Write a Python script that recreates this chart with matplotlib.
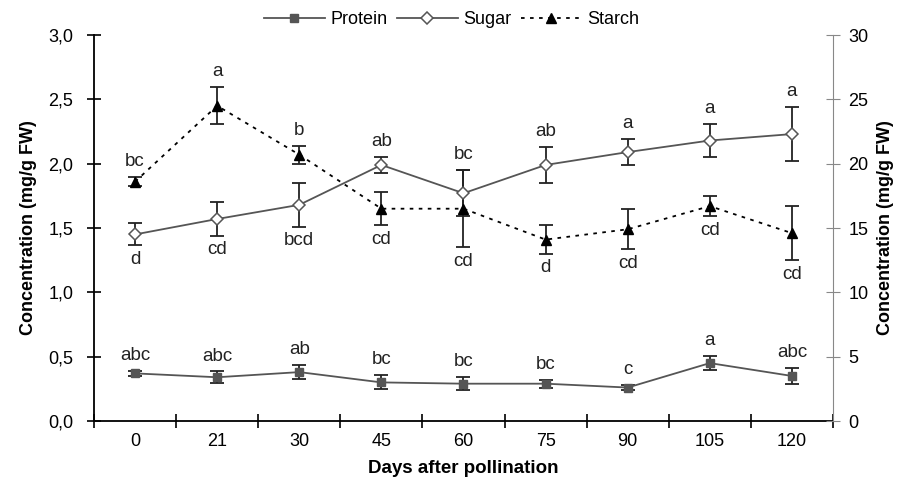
import matplotlib
matplotlib.use("Agg")
import matplotlib.pyplot as plt
import numpy as np

plt.rcParams['font.family'] = ['Liberation Sans', 'DejaVu Sans']

days = ["0", "21", "30", "45", "60", "75", "90", "105", "120"]
left_ticks = ["0,0", "0,5", "1,0", "1,5", "2,0", "2,5", "3,0"]

protein = [0.37, 0.34, 0.38, 0.30, 0.29, 0.29, 0.26, 0.45, 0.35]
protein_err = [0.02, 0.045, 0.055, 0.055, 0.05, 0.03, 0.02, 0.055, 0.06]
protein_let = ["abc", "abc", "ab", "bc", "bc", "bc", "c", "a", "abc"]

sugar = [14.5, 15.7, 16.8, 19.9, 17.7, 19.9, 20.9, 21.8, 22.3]
sugar_err = [0.85, 1.3, 1.7, 0.6, 1.8, 1.4, 1.0, 1.3, 2.1]
sugar_let = ["d", "cd", "bcd", "ab", "bc", "ab", "a", "a", "a"]
sugar_pos = ["below", "below", "below", "above", "above", "above", "above", "above", "above"]

starch = [18.6, 24.5, 20.7, 16.5, 16.5, 14.1, 14.9, 16.7, 14.6]
starch_err = [0.35, 1.45, 0.7, 1.3, 3.0, 1.1, 1.55, 0.8, 2.1]
starch_let = ["bc", "a", "b", "cd", "cd", "d", "cd", "cd", "cd"]
starch_pos = ["above", "above", "above", "below", "below", "below", "below", "below", "below"]

fig = plt.figure(figsize=(9.03, 4.84), dpi=100)
ax = fig.add_axes([94/903, 1-421/484, (833-94)/903, (421-35)/484])
ax2 = ax.twinx()
x = np.arange(len(days))

lp, = ax.plot(x, protein, '-', color='#555555', lw=1.3, marker='s', ms=6,
              mfc='#555555', mec='#555555', label='Protein', zorder=3)
ax.errorbar(x, protein, yerr=protein_err, fmt='none', ecolor='#222222', elinewidth=1.3, capsize=5, capthick=1.3)

ls, = ax2.plot(x, sugar, '-', color='#555555', lw=1.3, marker='D', ms=6,
               mfc='white', mec='#555555', mew=1.1, label='Sugar', zorder=4)
ax2.errorbar(x, sugar, yerr=sugar_err, fmt='none', ecolor='#222222', elinewidth=1.3, capsize=5, capthick=1.3, zorder=3)

lt, = ax2.plot(x, starch, linestyle=(0, (2, 3)), color='black', lw=1.3, marker='^', ms=7,
               mfc='black', mec='black', label='Starch', zorder=4)
ax2.errorbar(x, starch, yerr=starch_err, fmt='none', ecolor='#222222', elinewidth=1.3, capsize=5, capthick=1.3, zorder=3)

fs_let = 13.5
for i in range(len(days)):
    ax.annotate(protein_let[i], (x[i], protein[i] + protein_err[i]), xytext=(0, 5),
                textcoords='offset points', ha='center', va='bottom', fontsize=fs_let, color='#222222')
    for vals, errs, lets, pos in ((sugar, sugar_err, sugar_let, sugar_pos),
                                  (starch, starch_err, starch_let, starch_pos)):
        if pos[i] == 'above':
            ax2.annotate(lets[i], (x[i], vals[i] + errs[i]), xytext=(0, 5),
                         textcoords='offset points', ha='center', va='bottom', fontsize=fs_let, color='#222222')
        else:
            ax2.annotate(lets[i], (x[i], vals[i] - errs[i]), xytext=(0, -4),
                         textcoords='offset points', ha='center', va='top', fontsize=fs_let, color='#222222')

ax.set_xlim(-0.5, len(days) - 0.5)
ax.set_ylim(0, 3.0)
ax2.set_ylim(0, 30)
ax.set_yticks(np.arange(0, 3.01, 0.5))
ax.set_yticklabels(left_ticks, fontsize=13)
ax2.set_yticks(np.arange(0, 31, 5))
ax2.set_yticklabels([str(v) for v in range(0, 31, 5)], fontsize=13)
ax.set_xticks(x)
ax.set_xticklabels(days, fontsize=13)
ax.set_xticks(np.arange(-0.5, len(days), 1.0), minor=True)
ax.tick_params(axis='x', which='major', length=0, pad=9)
ax.tick_params(axis='x', which='minor', length=10, direction='inout', width=1.2)
ax.tick_params(axis='y', length=10, direction='inout', width=1.2, pad=10)
ax2.tick_params(axis='y', length=10, direction='inout', width=0.8, color='#888888', pad=6)

ax.spines['top'].set_visible(False)
ax2.spines['top'].set_visible(False)
ax.spines['right'].set_visible(False)
ax2.spines['left'].set_visible(False)
ax2.spines['bottom'].set_visible(False)
ax2.spines['right'].set_color('#888888')
ax2.spines['right'].set_linewidth(0.8)
ax.spines['left'].set_linewidth(1.3)
ax.spines['bottom'].set_linewidth(1.3)

ax.set_xlabel('Days after pollination', fontsize=13.5, fontweight='bold', labelpad=7)
ax.set_ylabel('Concentration (mg/g FW)', fontsize=13, fontweight='bold', labelpad=8)
ax2.set_ylabel('Concentration (mg/g FW)', fontsize=13, fontweight='bold', labelpad=6, rotation=90)

fig.legend(handles=[lp, ls, lt], loc='upper center', bbox_to_anchor=(0.5, 1.01), ncol=3,
           frameon=False, fontsize=13, handlelength=3.4, columnspacing=0.5, handletextpad=0.3)

fig.savefig('out.png', dpi=100)
